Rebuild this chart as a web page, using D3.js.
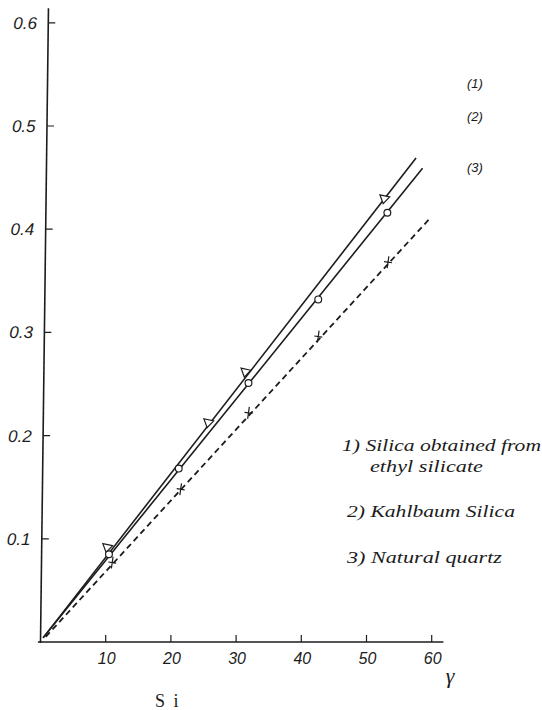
<!DOCTYPE html>
<html>
<head>
<meta charset="utf-8">
<script src="https://cdn.jsdelivr.net/npm/d3@7"></script>
<style>
  html, body { margin: 0; padding: 0; background: #ffffff; }
  svg { display: block; }
</style>
</head>
<body>
<svg id="chart" width="542" height="710"></svg>
<script>
// Axis ticks
const xTicks = [10, 20, 30, 40, 50, 60];
const yTicks = [0.1, 0.2, 0.3, 0.4, 0.5, 0.6];

// 1) Silica obtained from ethyl silicate (open triangles)
const ethylX = [10.2, 25.7, 31.4, 52.7];
const ethylY = [0.091, 0.212, 0.261, 0.429];
// 2) Kahlbaum Silica (open circles)
const kahlX = [10.5, 21.2, 31.9, 42.6, 53.2];
const kahlY = [0.085, 0.168, 0.251, 0.332, 0.416];
// 3) Natural quartz (crosses)
const quartzX = [11.0, 21.5, 31.9, 42.6, 53.3];
const quartzY = [0.077, 0.148, 0.222, 0.296, 0.368];

// Fitted calibration lines: [x, y] end points
const ethylFit = [[0.4, 0.004], [57.6, 0.469]];
const kahlFit = [[0.4, 0.004], [58.6, 0.459]];
const quartzFit = [[0.8, 0.005], [59.8, 0.411]];

const seriesTags = ["(1)", "(2)", "(3)"];
const legendLines = ["1) Silica obtained from", "ethyl silicate", "2) Kahlbaum Silica", "3) Natural quartz"];

const svg = d3.select("#chart");
const ink = "#1c1c1c";

const x = d3.scaleLinear().domain([0, 60]).range([40.5, 431.7]);
const y = d3.scaleLinear().domain([0, 0.6]).range([642, 22.8]);

// X axis, ticks pointing up into the plot
const gx = svg.append("g").attr("transform", `translate(0,${y(0)})`);
gx.append("line")
  .attr("x1", x(-0.4)).attr("x2", x(61.8))
  .attr("stroke", ink).attr("stroke-width", 1.6);
gx.selectAll("line.tick").data(xTicks).join("line")
  .attr("class", "tick")
  .attr("x1", d => x(d)).attr("x2", d => x(d))
  .attr("y1", 0).attr("y2", -7)
  .attr("stroke", ink).attr("stroke-width", 1.2);
gx.selectAll("text").data(xTicks).join("text")
  .attr("x", d => x(d) + 1).attr("y", 22)
  .attr("text-anchor", "middle")
  .attr("font-family", "Liberation Sans, Arial, sans-serif")
  .attr("font-style", "italic")
  .attr("font-size", 16)
  .attr("fill", ink)
  .text(d => d);

// Y axis (the drawn vertical leans slightly to the right)
const gy = svg.append("g")
  .attr("transform", `translate(${x(0)},${y(0)}) skewX(-0.72) translate(${-x(0)},${-y(0)})`);
gy.append("line")
  .attr("x1", x(0)).attr("x2", x(0))
  .attr("y1", y(-0.001)).attr("y2", y(0.614))
  .attr("stroke", ink).attr("stroke-width", 1.6);
gy.selectAll("line.tick").data(yTicks).join("line")
  .attr("class", "tick")
  .attr("x1", x(0)).attr("x2", x(0) + 7)
  .attr("y1", d => y(d)).attr("y2", d => y(d))
  .attr("stroke", ink).attr("stroke-width", 1.2);
gy.selectAll("text").data(yTicks).join("text")
  .attr("x", x(0) - 35).attr("y", d => y(d) + 6)
  .attr("text-anchor", "start")
  .attr("font-family", "Liberation Sans, Arial, sans-serif")
  .attr("font-style", "italic")
  .attr("font-size", 17)
  .attr("fill", ink)
  .text(d => d.toFixed(1));

// Fitted lines
const line = d3.line().x(d => x(d[0])).y(d => y(d[1]));
svg.append("path").datum(ethylFit).attr("d", line)
  .attr("fill", "none").attr("stroke", ink).attr("stroke-width", 1.6);
svg.append("path").datum(kahlFit).attr("d", line)
  .attr("fill", "none").attr("stroke", ink).attr("stroke-width", 1.6);
svg.append("path").datum(quartzFit).attr("d", line)
  .attr("fill", "none").attr("stroke", ink).attr("stroke-width", 1.8)
  .attr("stroke-dasharray", "6,4");

// Markers
const ethylPts = ethylX.map((v, i) => [v, ethylY[i]]);
const kahlPts = kahlX.map((v, i) => [v, kahlY[i]]);
const quartzPts = quartzX.map((v, i) => [v, quartzY[i]]);

svg.selectAll("path.tri").data(ethylPts).join("path")
  .attr("class", "tri")
  .attr("transform", d => `translate(${x(d[0])},${y(d[1])}) rotate(12)`)
  .attr("d", "M-5,-3.5 L5,-3.5 L0,4.5 Z")
  .attr("fill", "#ffffff").attr("stroke", ink).attr("stroke-width", 1.2);

svg.selectAll("circle.kahl").data(kahlPts).join("circle")
  .attr("class", "kahl")
  .attr("cx", d => x(d[0])).attr("cy", d => y(d[1]))
  .attr("r", 3.4)
  .attr("fill", "#ffffff").attr("stroke", ink).attr("stroke-width", 1.2);

svg.selectAll("path.cross").data(quartzPts).join("path")
  .attr("class", "cross")
  .attr("transform", d => `translate(${x(d[0])},${y(d[1])}) rotate(8)`)
  .attr("d", "M0,-6 L0,6 M-4,0 L4,0")
  .attr("fill", "none").attr("stroke", ink).attr("stroke-width", 1.2);

// Series tags at the upper right
const tagY = [88, 121, 172];
svg.selectAll("text.tag").data(seriesTags).join("text")
  .attr("class", "tag")
  .attr("x", 467).attr("y", (d, i) => tagY[i])
  .attr("font-family", "Liberation Sans, Arial, sans-serif")
  .attr("font-style", "italic")
  .attr("font-size", 13)
  .attr("fill", ink)
  .text(d => d);

// Legend text
const legendPos = [
  { x: 342, y: 451, w: 199 },
  { x: 370, y: 472, w: 113 },
  { x: 347, y: 517, w: 168 },
  { x: 347, y: 563, w: 155 }
];
svg.selectAll("text.legend").data(legendLines).join("text")
  .attr("class", "legend")
  .attr("x", (d, i) => legendPos[i].x).attr("y", (d, i) => legendPos[i].y)
  .attr("textLength", (d, i) => legendPos[i].w)
  .attr("lengthAdjust", "spacingAndGlyphs")
  .attr("font-family", "Liberation Serif, Times New Roman, serif")
  .attr("font-style", "italic")
  .attr("font-size", 17)
  .attr("fill", ink)
  .text(d => d);

// Unit label on the x axis and element label
svg.append("text")
  .attr("x", 450).attr("y", 683)
  .attr("text-anchor", "middle")
  .attr("font-family", "Liberation Serif, Times New Roman, serif")
  .attr("font-style", "italic")
  .attr("font-size", 22)
  .attr("fill", ink)
  .text("γ");

svg.append("text")
  .attr("x", 155).attr("y", 707)
  .attr("font-family", "Liberation Serif, Times New Roman, serif")
  .attr("font-size", 18)
  .attr("letter-spacing", 2)
  .attr("fill", ink)
  .text("S i");
</script>
</body>
</html>
